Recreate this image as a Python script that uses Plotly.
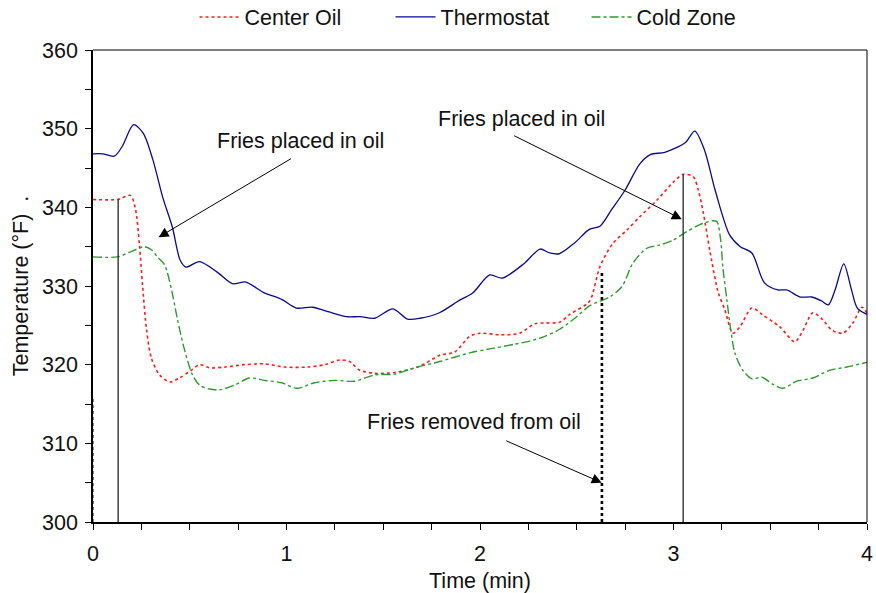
import plotly.graph_objects as go

# ---------------- data ----------------
thermo_t = [0, 0.05, 0.11, 0.15, 0.21, 0.26, 0.31, 0.36, 0.41, 0.45, 0.48, 0.55, 0.64, 0.72, 0.79, 0.88,
            0.975, 1.05, 1.135, 1.22, 1.31, 1.38, 1.455, 1.55, 1.625, 1.69, 1.79, 1.895, 1.962, 2.05, 2.115,
            2.23, 2.31, 2.36, 2.41, 2.49, 2.565, 2.62, 2.68, 2.75, 2.825, 2.88, 2.955, 3.06, 3.11, 3.16,
            3.215, 3.29, 3.345, 3.405, 3.47, 3.54, 3.585, 3.655, 3.715, 3.765, 3.80, 3.835, 3.88, 3.92, 3.95, 4.0]
thermo_T = [346.8, 346.8, 346.5, 347.7, 350.5, 349.4, 346.0, 341.3, 337.5, 333.3, 332.4, 333.1, 331.8, 330.3, 330.5, 329.2,
            328.3, 327.2, 327.3, 326.7, 326.1, 326.1, 325.9, 327.1, 325.8, 325.9, 326.6, 328.2, 329.1, 331.4, 331.0,
            332.9, 334.7, 334.2, 334.1, 335.5, 337.2, 337.6, 339.7, 342.2, 345.5, 346.7, 347.0, 348.2, 349.7, 347.3,
            342.2, 336.5, 335.0, 334.2, 330.4, 329.5, 329.5, 328.6, 328.6, 328.1, 327.6, 329.5, 332.8, 329.5, 327.2, 326.4]

center_t = [0, 0.127, 0.194, 0.22, 0.24, 0.256, 0.277, 0.302, 0.344, 0.396, 0.447, 0.509, 0.551, 0.602, 0.68,
            0.783, 0.887, 0.99, 1.109, 1.197, 1.275, 1.326, 1.378, 1.455, 1.558, 1.688, 1.792, 1.869, 1.947,
            1.999, 2.103, 2.205, 2.283, 2.335, 2.412, 2.464, 2.557, 2.577, 2.619, 2.686, 2.759, 2.826, 2.914,
            2.999, 3.05, 3.102, 3.128, 3.154, 3.19, 3.232, 3.265, 3.307, 3.343, 3.405, 3.462, 3.55, 3.627,
            3.668, 3.72, 3.772, 3.818, 3.875, 3.927, 3.974, 4.0]
center_T = [341.0, 341.0, 341.5, 339.7, 335.2, 330.1, 324.4, 320.8, 318.7, 317.8, 318.3, 319.3, 320.0, 319.6, 319.7,
            320.0, 320.1, 319.7, 319.7, 320.0, 320.6, 320.4, 319.3, 318.9, 319.0, 319.8, 321.2, 321.6, 323.6,
            324.0, 323.8, 324.0, 325.2, 325.3, 325.4, 326.4, 327.8, 328.6, 332.4, 335.4, 337.1, 338.8, 340.9,
            343.2, 344.2, 343.9, 342.2, 339.3, 334.2, 329.1, 327.0, 324.0, 324.8, 327.2, 326.3, 324.8, 322.9,
            324.3, 326.6, 325.7, 324.4, 324.0, 325.3, 327.3, 326.6]

cold_t = [0, 0.127, 0.19, 0.266, 0.302, 0.333, 0.37, 0.406, 0.437, 0.473, 0.514, 0.551, 0.602, 0.654, 0.732,
          0.809, 0.887, 0.975, 1.052, 1.145, 1.249, 1.352, 1.455, 1.558, 1.662, 1.792, 1.947, 2.05, 2.179,
          2.257, 2.335, 2.412, 2.49, 2.567, 2.67, 2.733, 2.79, 2.862, 2.929, 2.996, 3.068, 3.136, 3.203,
          3.224, 3.244, 3.255, 3.276, 3.291, 3.317, 3.358, 3.405, 3.457, 3.514, 3.565, 3.637, 3.72, 3.808,
          3.896, 4.0]
cold_T = [333.7, 333.7, 334.3, 335.0, 334.6, 333.7, 332.7, 329.5, 325.7, 321.9, 318.7, 317.4, 316.9, 316.8, 317.4,
          318.3, 318.0, 317.7, 317.0, 317.7, 318.0, 317.9, 318.7, 318.8, 319.6, 320.4, 321.5, 322.0, 322.6,
          323.0, 323.6, 324.5, 325.9, 327.5, 328.6, 329.9, 332.9, 334.8, 335.2, 335.8, 336.9, 337.8, 338.3,
          338.2, 335.8, 332.4, 328.2, 325.3, 321.5, 319.3, 318.2, 318.4, 317.5, 317.0, 317.9, 318.3, 319.3,
          319.7, 320.3]

# event markers (time, top temperature)
placed_t = [0.13, 3.05]
placed_top = [341.0, 344.2]
removed_t = [0.0, 2.63]
removed_top = [316.0, 331.7]

x_ticks = [0, 1, 2, 3, 4]
y_ticks = [300, 310, 320, 330, 340, 350, 360]

FONT = "Liberation Sans, Arial, sans-serif"
FS = 21.5

fig = go.Figure()
fig.add_trace(go.Scatter(x=center_t, y=center_T, name="Center Oil", mode="lines",
                         line=dict(color="#ff1a1a", width=1.6, dash="dot", shape="spline", smoothing=0.8)))
fig.add_trace(go.Scatter(x=thermo_t, y=thermo_T, name="Thermostat", mode="lines",
                         line=dict(color="#0a0a8a", width=1.3, shape="spline", smoothing=0.8)))
fig.add_trace(go.Scatter(x=cold_t, y=cold_T, name="Cold Zone", mode="lines",
                         line=dict(color="#2e9a2e", width=1.4, dash="dashdot", shape="spline", smoothing=0.8)))

shapes = []
for t, top in zip(placed_t, placed_top):
    shapes.append(dict(type="line", xref="x", yref="y", x0=t, x1=t, y0=300, y1=top,
                       line=dict(color="#333333", width=1.4)))
shapes.append(dict(type="line", xref="x", yref="y", x0=removed_t[0], x1=removed_t[0], y0=300, y1=removed_top[0],
                   line=dict(color="#000000", width=1, dash="dot")))
shapes.append(dict(type="line", xref="x", yref="y", x0=removed_t[1], x1=removed_t[1], y0=300, y1=removed_top[1],
                   line=dict(color="#000000", width=2.6, dash="dot")))
# top and right frame
shapes.append(dict(type="line", xref="paper", yref="paper", x0=0, x1=1, y0=1, y1=1, line=dict(color="#000", width=1)))
shapes.append(dict(type="line", xref="paper", yref="paper", x0=1, x1=1, y0=0, y1=1, line=dict(color="#000", width=1)))

annotations = [
    dict(x=1.073, y=348.4, xref="x", yref="y", text="Fries placed in oil", showarrow=False,
         font=dict(size=FS, color="#111")),
    dict(x=2.216, y=351.2, xref="x", yref="y", text="Fries placed in oil", showarrow=False,
         font=dict(size=FS, color="#111")),
    dict(x=1.967, y=312.7, xref="x", yref="y", text="Fries removed from oil", showarrow=False,
         font=dict(size=FS, color="#111")),
    dict(x=0.339, y=336.2, ax=1.031, ay=346.3, xref="x", yref="y", axref="x", ayref="y", text="",
         showarrow=True, arrowhead=2, arrowsize=2, arrowwidth=1, arrowcolor="#000"),
    dict(x=3.043, y=338.5, ax=2.169, ay=349.2, xref="x", yref="y", axref="x", ayref="y", text="",
         showarrow=True, arrowhead=2, arrowsize=2, arrowwidth=1, arrowcolor="#000"),
    dict(x=2.629, y=305.0, ax=2.128, ay=310.4, xref="x", yref="y", axref="x", ayref="y", text="",
         showarrow=True, arrowhead=2, arrowsize=2, arrowwidth=1, arrowcolor="#000"),
]

fig.update_layout(
    width=876, height=593,
    margin=dict(l=93, r=9, t=50, b=71, autoexpand=False),
    paper_bgcolor="white", plot_bgcolor="white",
    font=dict(family=FONT, size=FS, color="#111"),
    showlegend=True,
    legend=dict(orientation="h", x=0.511, xanchor="center", y=1.07, yanchor="middle",
                font=dict(size=FS), bgcolor="rgba(0,0,0,0)", itemwidth=40,
                entrywidth=141, entrywidthmode="pixels"),
    shapes=shapes,
    annotations=annotations,
)
fig.update_xaxes(range=[0, 4], tickvals=x_ticks, ticktext=[str(v) for v in x_ticks], automargin=False,
                 showgrid=False, zeroline=False, showline=True, linecolor="#000", linewidth=1.6,
                 ticks="outside", ticklen=6, tickcolor="#000", tickwidth=1, ticklabelstandoff=5,
                 minor=dict(dtick=0.25, ticks="outside", ticklen=6, tickcolor="#000", tickwidth=1, showgrid=False),
                 title=dict(text="Time (min)", font=dict(size=FS), standoff=10),
                 tickfont=dict(size=FS))
fig.update_yaxes(range=[300, 360], tickvals=y_ticks, ticktext=[str(v) for v in y_ticks], automargin=False,
                 showgrid=False, zeroline=False, showline=True, linecolor="#000", linewidth=1.6,
                 ticks="outside", ticklen=6, tickcolor="#000", tickwidth=1, ticklabelstandoff=3,
                 minor=dict(dtick=5, ticks="outside", ticklen=6, tickcolor="#000", tickwidth=1, showgrid=False),
                 title=dict(text="Temperature (°F)  .", font=dict(size=FS), standoff=8),
                 tickfont=dict(size=FS))

fig.write_html("out.html", config={"displayModeBar": False},
               post_script="document.body.style.margin='0';document.body.style.overflow='hidden';")
